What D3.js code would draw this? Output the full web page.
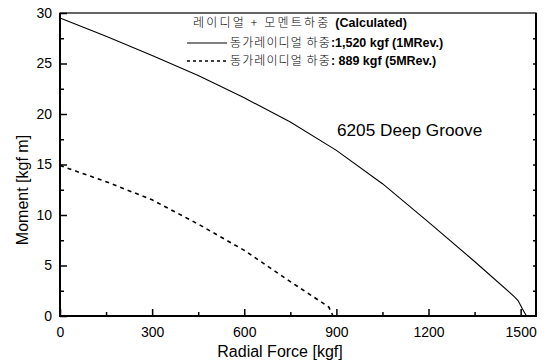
<!DOCTYPE html>
<html>
<head>
<meta charset="utf-8">
<script src="https://cdn.jsdelivr.net/npm/d3@7"></script>
<style>
body{margin:0;background:#fff;}
text{font-family:"Liberation Sans",Arial,"Noto Sans CJK KR",sans-serif;fill:#000;}
</style>
</head>
<body>
<svg width="551" height="361"></svg>
<script>
// data
const force1=[0,150,300,450,600,750,900,1050,1200,1350,1480,1492,1506,1519];
const moment1=[29.5,27.7,25.8,23.8,21.6,19.2,16.4,13.1,9.3,5.4,1.9,1.5,0.7,0];
const force5=[0,150,300,450,600,745,875,889];
const moment5=[14.9,13.3,11.5,9.1,6.5,3.5,0.9,0];
const xTicks=[0,300,600,900,1200,1500];
const yTicks=[0,5,10,15,20,25,30];

const svg=d3.select('svg');
const plotL=60, plotR=536, plotT=13, plotB=316;

const x=d3.scaleLinear().domain([0,1550]).range([plotL,plotR]);
const y=d3.scaleLinear().domain([0,30]).range([plotB,plotT]);

// frame
svg.append('rect')
    .attr('x',plotL).attr('y',plotT)
    .attr('width',plotR-plotL).attr('height',plotB-plotT)
    .attr('fill','none').attr('stroke','#000').attr('stroke-width',1.2);
svg.append('path')
    .attr('d',`M${plotL},${plotT}V${plotB}H${plotR}V${plotT}`)
    .attr('fill','none').attr('stroke','#000').attr('stroke-width',2);

// axes, ticks inward
svg.append('g')
    .attr('transform',`translate(0,${plotB})`)
    .call(d3.axisBottom(x).tickValues(xTicks).tickSize(-7).tickPadding(11).tickFormat(d3.format('d')));
svg.append('g')
    .attr('transform',`translate(0,${plotB})`)
    .call(d3.axisBottom(x).tickValues(d3.range(150,1550,300)).tickSize(-4).tickFormat(''));
svg.append('g')
    .attr('transform',`translate(${plotL},0)`)
    .call(d3.axisLeft(y).tickValues(yTicks).tickSize(-7).tickPadding(8));
svg.append('g')
    .attr('transform',`translate(${plotL},0)`)
    .call(d3.axisLeft(y).tickValues(d3.range(2.5,30,5)).tickSize(-4).tickFormat(''));
svg.append('g')
    .attr('transform',`translate(${plotR},0)`)
    .call(d3.axisRight(y).tickValues(d3.range(2.5,30,2.5)).tickSize(-3).tickFormat(''));
svg.selectAll('.domain').remove();
svg.selectAll('.tick line').attr('stroke','#000').attr('stroke-width',1.5);
svg.selectAll('.tick text').attr('font-size',14).attr('fill','#000')
    .attr('font-family','"Liberation Sans",Arial,sans-serif');

// curves
const line=d3.line().x(d=>x(d[0])).y(d=>y(d[1]));
svg.append('path')
    .datum(d3.zip(force1,moment1))
    .attr('d',line)
    .attr('fill','none').attr('stroke','#000').attr('stroke-width',1.1);
svg.append('path')
    .datum(d3.zip(force5,moment5))
    .attr('d',line)
    .attr('fill','none').attr('stroke','#000').attr('stroke-width',1.6)
    .attr('stroke-dasharray','4,4');

// axis titles
svg.append('text')
    .attr('x',280).attr('y',357)
    .attr('text-anchor','middle').attr('font-size',16)
    .text('Radial Force [kgf]');
svg.append('text')
    .attr('transform','translate(28,190) rotate(-90)')
    .attr('text-anchor','middle').attr('font-size',16)
    .text('Moment [kgf m]');

svg.append('text')
    .attr('x',337).attr('y',136)
    .attr('font-size',17.2)
    .text('6205 Deep Groove');

// legend
const legend=[
    {ko:'레이디얼 + 모멘트하중 ',en:'(Calculated)',x:193,y:27,dash:null,ls:2.2},
    {ko:'동가레이디얼 하중',en:':1,520 kgf (1MRev.)',x:230,y:47,dash:'none',ls:1.1},
    {ko:'동가레이디얼 하중',en:': 889 kgf (5MRev.)',x:230,y:65,dash:'3,3',ls:1.1}
];
legend.forEach(d=>{
    const t=svg.append('text').attr('x',d.x).attr('y',d.y).attr('font-size',12.5);
    t.append('tspan').attr('font-family','"Noto Sans CJK KR",sans-serif')
        .attr('font-size',12).attr('font-weight',300).attr('letter-spacing',d.ls).text(d.ko);
    t.append('tspan').attr('font-weight','bold').text(d.en);
    if(d.dash!==null){
        svg.append('line')
            .attr('x1',187).attr('x2',227)
            .attr('y1',d.y-4).attr('y2',d.y-4)
            .attr('stroke','#000').attr('stroke-width',d.dash==='none'?1:1.5)
            .attr('stroke-dasharray',d.dash);
    }
});
</script>
</body>
</html>
